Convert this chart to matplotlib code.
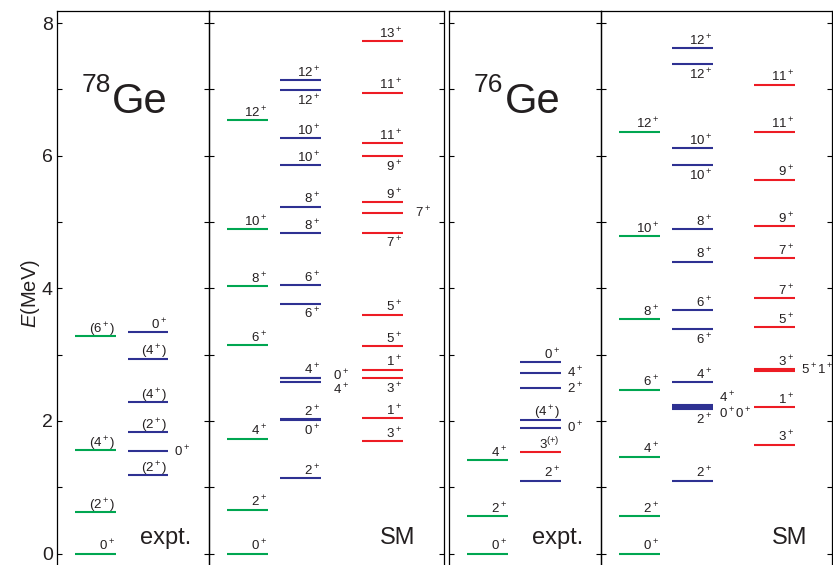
import numpy as np
import matplotlib
matplotlib.use('Agg')
import matplotlib.pyplot as plt

plt.rcParams['font.family'] = ['Liberation Sans', 'DejaVu Sans']
plt.rcParams['mathtext.fontset'] = 'custom'
plt.rcParams['mathtext.rm'] = 'Liberation Sans'
plt.rcParams['mathtext.it'] = 'Liberation Sans:italic'
plt.rcParams['mathtext.bf'] = 'Liberation Sans:bold'

# energy axis
e_ticks = [0, 1, 2, 3, 4, 5, 6, 7, 8]
e_tick_labels = ['0', '', '2', '', '4', '', '6', '', '8']

# 78Ge, experiment
ge78_exp_gsb_E = [0.0, 0.62, 1.56, 3.28]
ge78_exp_gsb_J = [r'0$^+$', r'(2$^+$)', r'(4$^+$)', r'(6$^+$)']
ge78_exp_oth_E = [1.18, 1.54, 1.83, 2.28, 2.94, 3.34]
ge78_exp_oth_J = [r'(2$^+$)', r'0$^+$', r'(2$^+$)', r'(4$^+$)', r'(4$^+$)', r'0$^+$']

# 78Ge, shell model
ge78_sm_gsb_E = [0.0, 0.66, 1.73, 3.14, 4.03, 4.89, 6.54]
ge78_sm_gsb_J = [r'0$^+$', r'2$^+$', r'4$^+$', r'6$^+$', r'8$^+$', r'10$^+$', r'12$^+$']
ge78_sm_even_E = [1.14, 2.015, 2.025, 2.58, 2.64, 2.65, 3.77, 4.05, 4.83, 5.23,
                  5.86, 6.26, 6.99, 7.14]
ge78_sm_even_J = [r'2$^+$', r'0$^+$', r'2$^+$', r'4$^+$', r'0$^+$', r'4$^+$', r'6$^+$',
                  r'6$^+$', r'8$^+$', r'8$^+$', r'10$^+$', r'10$^+$', r'12$^+$', r'12$^+$']
ge78_sm_odd_E = [1.69, 2.04, 2.65, 2.77, 3.13, 3.60, 4.84, 5.14, 5.30, 5.99, 6.19, 6.95, 7.73]
ge78_sm_odd_J = [r'3$^+$', r'1$^+$', r'3$^+$', r'1$^+$', r'5$^+$', r'5$^+$', r'7$^+$',
                 r'7$^+$', r'9$^+$', r'9$^+$', r'11$^+$', r'11$^+$', r'13$^+$']

# 76Ge, experiment
ge76_exp_gsb_E = [0.0, 0.56, 1.41]
ge76_exp_gsb_J = [r'0$^+$', r'2$^+$', r'4$^+$']
ge76_exp_oth_E = [1.10, 1.90, 2.02, 2.49, 2.72, 2.89]
ge76_exp_oth_J = [r'2$^+$', r'0$^+$', r'(4$^+$)', r'2$^+$', r'4$^+$', r'0$^+$']
ge76_exp_odd_E = [1.53]
ge76_exp_odd_J = [r'3$^{(+)}$']

# 76Ge, shell model
ge76_sm_gsb_E = [0.0, 0.56, 1.46, 2.47, 3.53, 4.79, 6.36]
ge76_sm_gsb_J = [r'0$^+$', r'2$^+$', r'4$^+$', r'6$^+$', r'8$^+$', r'10$^+$', r'12$^+$']
ge76_sm_even_E = [1.10, 2.18, 2.20, 2.215, 2.235, 2.58, 3.38, 3.67, 4.40, 4.89,
                  5.86, 6.11, 7.38, 7.62]
ge76_sm_even_J = [r'2$^+$', r'2$^+$', '', r'0$^+$0$^+$', r'4$^+$', r'4$^+$', r'6$^+$',
                  r'6$^+$', r'8$^+$', r'8$^+$', r'10$^+$', r'10$^+$', r'12$^+$', r'12$^+$']
ge76_sm_odd_E = [1.64, 2.21, 2.75, 2.77, 2.785, 3.41, 3.85, 4.45, 4.94, 5.64, 6.36, 7.07]
ge76_sm_odd_J = [r'3$^+$', r'1$^+$', '', r'5$^+$1$^+$', r'3$^+$', r'5$^+$', r'7$^+$',
                 r'7$^+$', r'9$^+$', r'9$^+$', r'11$^+$', r'11$^+$']

# where each spin label sits: a = above, b = below, r = right (ru / r+ / r- shifted)
ge78_exp_gsb_pos = ['a'] * 4
ge78_exp_oth_pos = ['a', 'r', 'a', 'a', 'a', 'a']
ge78_sm_gsb_pos = ['a'] * 7
ge78_sm_even_pos = ['a', 'b', 'a', 'r-', 'ru', 'a', 'b', 'a', 'a', 'a', 'a', 'a', 'b', 'a']
ge78_sm_odd_pos = ['a', 'a', 'b', 'a', 'a', 'a', 'b', 'r', 'a', 'b', 'a', 'a', 'a']
ge76_exp_gsb_pos = ['a'] * 3
ge76_exp_oth_pos = ['a', 'r', 'a', 'r', 'r', 'a']
ge76_exp_odd_pos = ['a']
ge76_sm_gsb_pos = ['a'] * 7
ge76_sm_even_pos = ['a', 'b', 'r-', 'r-', 'r+', 'a', 'b', 'a', 'a', 'a', 'b', 'a', 'b', 'a']
ge76_sm_odd_pos = ['a', 'a', 'r', 'r', 'a', 'a', 'a', 'a', 'a', 'a', 'a', 'a']

GREEN = '#00a651'
BLUE = '#2e3192'
RED = '#ed1c24'
INK = '#231f20'

W, H = 833, 565
Y0, PPM = 553.5, 66.3          # pixel row of E = 0 and pixels per MeV
EMIN = -0.25
EMAX = (Y0 - 10.7) / PPM

fig = plt.figure(figsize=(W / 100, H / 100), dpi=100)


def panel(x0, x1, ticklabels=False):
    ybot = Y0 - EMIN * PPM
    ytop = Y0 - EMAX * PPM
    ax = fig.add_axes([x0 / W, 1 - ybot / H, (x1 - x0) / W, (ybot - ytop) / H])
    ax.patch.set_visible(False)
    ax.set_xlim(x0, x1)
    ax.set_ylim(EMIN, EMAX)
    ax.set_xticks([])
    ax.set_yticks(e_ticks)
    ax.set_yticklabels(e_tick_labels)
    ax.tick_params(axis='y', direction='in', left=True, right=True, length=3.6,
                   width=0.8, labelsize=14, pad=3, labelcolor=INK,
                   labelleft=ticklabels)
    for s in ax.spines.values():
        s.set_linewidth(0.9)
    ax.spines['bottom'].set_visible(False)
    return ax


def levels(ax, x0, x1, E, J, pos, color, gap=6):
    ax.hlines(E, x0, x1, color=color, lw=1.5)
    for e, j, p in zip(E, J, pos):
        if not j:
            continue
        kw = dict(textcoords='offset pixels', fontsize=9.5, color=INK)
        if p == 'a':
            ax.annotate(j, (x1 - 1, e), xytext=(0, 3), ha='right', va='baseline', **kw)
        elif p == 'b':
            ax.annotate(j, (x1 - 1, e), xytext=(0, -3), ha='right', va='top', **kw)
        else:
            dy = {'r': 0, 'ru': 3, 'r+': 7, 'r-': -7}[p]
            ax.annotate(j, (x1, e), xytext=(gap, dy - 4.5), ha='left', va='baseline', **kw)


ax78e = panel(57, 209, ticklabels=True)
ax78s = panel(209, 444)
ax76e = panel(449, 601)
ax76s = panel(601, 832)

levels(ax78e, 75, 116, ge78_exp_gsb_E, ge78_exp_gsb_J, ge78_exp_gsb_pos, GREEN)
levels(ax78e, 128, 168, ge78_exp_oth_E, ge78_exp_oth_J, ge78_exp_oth_pos, BLUE)

levels(ax78s, 227, 268, ge78_sm_gsb_E, ge78_sm_gsb_J, ge78_sm_gsb_pos, GREEN)
levels(ax78s, 280, 321, ge78_sm_even_E, ge78_sm_even_J, ge78_sm_even_pos, BLUE, gap=12)
levels(ax78s, 362, 403, ge78_sm_odd_E, ge78_sm_odd_J, ge78_sm_odd_pos, RED, gap=12)

levels(ax76e, 467, 508, ge76_exp_gsb_E, ge76_exp_gsb_J, ge76_exp_gsb_pos, GREEN)
levels(ax76e, 520, 561, ge76_exp_oth_E, ge76_exp_oth_J, ge76_exp_oth_pos, BLUE)
levels(ax76e, 520, 561, ge76_exp_odd_E, ge76_exp_odd_J, ge76_exp_odd_pos, RED)

levels(ax76s, 619, 660, ge76_sm_gsb_E, ge76_sm_gsb_J, ge76_sm_gsb_pos, GREEN)
levels(ax76s, 672, 713, ge76_sm_even_E, ge76_sm_even_J, ge76_sm_even_pos, BLUE)
levels(ax76s, 754, 795, ge76_sm_odd_E, ge76_sm_odd_J, ge76_sm_odd_pos, RED)

# nucleus names
for ax, mass, xm, xg in [(ax78e, '78', 82, 112), (ax76e, '76', 474, 505)]:
    ax.text(xm, 7.25, mass, fontsize=19, color=INK, ha='left', va='top')
    ax.text(xg, 6.64, 'Ge', fontsize=30, color=INK, ha='left', va='baseline')

# column captions
ax78e.text(140, 0.14, 'expt.', fontsize=17, color=INK, ha='left', va='baseline')
ax76e.text(532, 0.14, 'expt.', fontsize=17, color=INK, ha='left', va='baseline')
ax78s.text(380, 0.14, 'SM', fontsize=17, color=INK, ha='left', va='baseline')
ax76s.text(772, 0.14, 'SM', fontsize=17, color=INK, ha='left', va='baseline')

fig.text(31 / W, 1 - 294 / H, r'$\mathit{E}$(MeV)', fontsize=14.5, color=INK,
         rotation=90, ha='center', va='center')

fig.savefig('out.png', dpi=100)
